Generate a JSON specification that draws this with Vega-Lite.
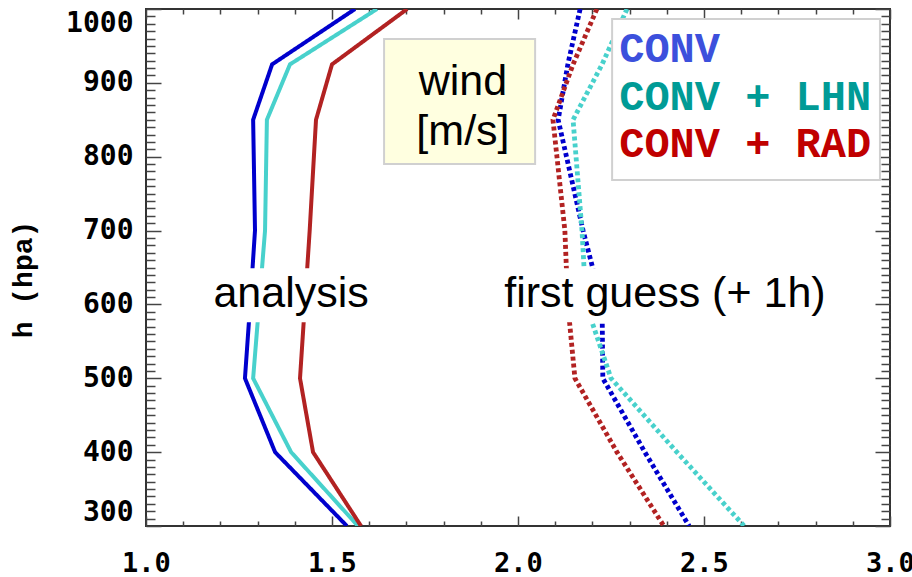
{
  "$schema": "https://vega.github.io/schema/vega-lite/v6.json",
  "width": 744,
  "height": 517,
  "autosize": {"type": "none"},
  "padding": {"left": 146, "top": 9, "right": 22, "bottom": 51},
  "background": "white",
  "datasets": {
    "profiles": [
      {"run": "CONV", "type": "analysis", "p": 1000, "v": 1.562},
      {"run": "CONV", "type": "analysis", "p": 925, "v": 1.339},
      {"run": "CONV", "type": "analysis", "p": 850, "v": 1.288},
      {"run": "CONV", "type": "analysis", "p": 700, "v": 1.293},
      {"run": "CONV", "type": "analysis", "p": 600, "v": 1.280},
      {"run": "CONV", "type": "analysis", "p": 500, "v": 1.266},
      {"run": "CONV", "type": "analysis", "p": 400, "v": 1.347},
      {"run": "CONV", "type": "analysis", "p": 300, "v": 1.540},
      {"run": "CONV + LHN", "type": "analysis", "p": 1000, "v": 1.621},
      {"run": "CONV + LHN", "type": "analysis", "p": 925, "v": 1.387},
      {"run": "CONV + LHN", "type": "analysis", "p": 850, "v": 1.325},
      {"run": "CONV + LHN", "type": "analysis", "p": 700, "v": 1.320},
      {"run": "CONV + LHN", "type": "analysis", "p": 600, "v": 1.304},
      {"run": "CONV + LHN", "type": "analysis", "p": 500, "v": 1.288},
      {"run": "CONV + LHN", "type": "analysis", "p": 400, "v": 1.390},
      {"run": "CONV + LHN", "type": "analysis", "p": 300, "v": 1.570},
      {"run": "CONV + RAD", "type": "analysis", "p": 1000, "v": 1.702},
      {"run": "CONV + RAD", "type": "analysis", "p": 925, "v": 1.500},
      {"run": "CONV + RAD", "type": "analysis", "p": 850, "v": 1.457},
      {"run": "CONV + RAD", "type": "analysis", "p": 700, "v": 1.440},
      {"run": "CONV + RAD", "type": "analysis", "p": 600, "v": 1.427},
      {"run": "CONV + RAD", "type": "analysis", "p": 500, "v": 1.414},
      {"run": "CONV + RAD", "type": "analysis", "p": 400, "v": 1.449},
      {"run": "CONV + RAD", "type": "analysis", "p": 300, "v": 1.578},
      {"run": "CONV", "type": "first guess", "p": 1000, "v": 2.167},
      {"run": "CONV", "type": "first guess", "p": 925, "v": 2.134},
      {"run": "CONV", "type": "first guess", "p": 850, "v": 2.108},
      {"run": "CONV", "type": "first guess", "p": 700, "v": 2.175},
      {"run": "CONV", "type": "first guess", "p": 600, "v": 2.226},
      {"run": "CONV", "type": "first guess", "p": 500, "v": 2.228},
      {"run": "CONV", "type": "first guess", "p": 400, "v": 2.341},
      {"run": "CONV", "type": "first guess", "p": 300, "v": 2.460},
      {"run": "CONV + LHN", "type": "first guess", "p": 1000, "v": 2.293},
      {"run": "CONV + LHN", "type": "first guess", "p": 925, "v": 2.226},
      {"run": "CONV + LHN", "type": "first guess", "p": 850, "v": 2.148},
      {"run": "CONV + LHN", "type": "first guess", "p": 700, "v": 2.172},
      {"run": "CONV + LHN", "type": "first guess", "p": 600, "v": 2.183},
      {"run": "CONV + LHN", "type": "first guess", "p": 500, "v": 2.250},
      {"run": "CONV + LHN", "type": "first guess", "p": 400, "v": 2.427},
      {"run": "CONV + LHN", "type": "first guess", "p": 300, "v": 2.608},
      {"run": "CONV + RAD", "type": "first guess", "p": 1000, "v": 2.212},
      {"run": "CONV + RAD", "type": "first guess", "p": 925, "v": 2.148},
      {"run": "CONV + RAD", "type": "first guess", "p": 850, "v": 2.094},
      {"run": "CONV + RAD", "type": "first guess", "p": 700, "v": 2.126},
      {"run": "CONV + RAD", "type": "first guess", "p": 600, "v": 2.134},
      {"run": "CONV + RAD", "type": "first guess", "p": 500, "v": 2.153},
      {"run": "CONV + RAD", "type": "first guess", "p": 400, "v": 2.266},
      {"run": "CONV + RAD", "type": "first guess", "p": 300, "v": 2.392}
    ],
    "gaps": [
      {"name": "analysis", "v1": 1.177, "v2": 1.602, "p1": 576, "p2": 649},
      {"name": "first guess", "v1": 1.952, "v2": 2.839, "p1": 576, "p2": 649}
    ],
    "boxes": [
      {"name": "wind", "v1": 1.640, "v2": 2.046, "p1": 790, "p2": 959.4},
      {"name": "legend", "v1": 2.253, "v2": 2.973, "p1": 768.5, "p2": 986.5}
    ],
    "notes": [
      {"text": "analysis", "v": 1.39, "p": 596.5},
      {"text": "first guess (+ 1h)", "v": 2.395, "p": 596.5},
      {"text": "wind", "v": 1.852, "p": 883.6},
      {"text": "[m/s]", "v": 1.852, "p": 815.9}
    ],
    "legend": [
      {"label": "CONV", "v": 2.272, "p": 927.8},
      {"label": "CONV + LHN", "v": 2.272, "p": 863.3},
      {"label": "CONV + RAD", "v": 2.272, "p": 799.2}
    ]
  },
  "resolve": {"axis": {"x": "independent", "y": "independent"}, "scale": {"fill": "independent"}},
  "layer": [
    {
      "data": {"name": "profiles"},
      "mark": {"type": "line", "clip": true, "strokeCap": "butt"},
      "encoding": {
        "x": {"field": "v", "type": "quantitative",
              "scale": {"domain": [1, 3], "nice": false, "zero": false},
              "axis": {"orient": "bottom", "title": null, "values": [1, 1.5, 2, 2.5, 3], "format": ".1f",
                       "tickSize": -10, "labelPadding": 34, "labelFlush": false,
                       "labelFont": "DejaVu Sans Mono", "labelFontWeight": "bold", "labelFontSize": 27, "labelColor": "black"}},
        "y": {"field": "p", "type": "quantitative",
              "scale": {"domain": [300, 1000], "nice": false, "zero": false},
              "axis": {"orient": "left", "title": "h (hpa)", "values": [300, 400, 500, 600, 700, 800, 900, 1000], "format": "d",
                       "tickSize": -15, "labelPadding": 28, "labelFlush": true,
                       "labelFont": "DejaVu Sans Mono", "labelFontWeight": "bold", "labelFontSize": 28, "labelColor": "black",
                       "titleFont": "Liberation Mono", "titleFontWeight": "bold", "titleFontSize": 28, "titleColor": "black",
                       "titlePadding": 28, "titleY": 270}},
        "order": {"field": "p", "type": "quantitative", "sort": "descending"},
        "stroke": {"field": "run", "type": "nominal",
                   "scale": {"domain": ["CONV", "CONV + LHN", "CONV + RAD"], "range": ["#0000CD", "#48D1CC", "#B22222"]},
                   "legend": null},
        "strokeDash": {"field": "type", "type": "nominal",
                       "scale": {"domain": ["analysis", "first guess"], "range": [[1, 0], [4, 3]]},
                       "legend": null},
        "strokeWidth": {"field": "type", "type": "nominal",
                        "scale": {"domain": ["analysis", "first guess"], "range": [4, 4.8]},
                        "legend": null},
        "detail": {"field": "type"}
      }
    },
    {
      "data": {"name": "gaps"},
      "mark": {"type": "rect", "fill": "white", "stroke": null},
      "encoding": {
        "x": {"field": "v1", "type": "quantitative",
              "axis": {"orient": "bottom", "title": null, "labels": false,
                       "values": [1.1, 1.2, 1.3, 1.4, 1.6, 1.7, 1.8, 1.9, 2.1, 2.2, 2.3, 2.4, 2.6, 2.7, 2.8, 2.9],
                       "tickSize": -5}},
        "x2": {"field": "v2"},
        "y": {"field": "p1", "type": "quantitative",
              "axis": {"orient": "left", "title": null, "labels": false, "tickSize": -9,
                       "values": [310,320,330,340,350,360,370,380,390,410,420,430,440,450,460,470,480,490,510,520,530,540,550,560,570,580,590,610,620,630,640,650,660,670,680,690,710,720,730,740,750,760,770,780,790,810,820,830,840,850,860,870,880,890,910,920,930,940,950,960,970,980,990]}},
        "y2": {"field": "p2"}
      }
    },
    {
      "data": {"name": "boxes"},
      "mark": {"type": "rect", "strokeWidth": 2},
      "encoding": {
        "x": {"field": "v1", "type": "quantitative",
              "axis": {"orient": "top", "title": null, "labels": false, "values": [1, 1.5, 2, 2.5, 3], "tickSize": -10}},
        "x2": {"field": "v2"},
        "y": {"field": "p1", "type": "quantitative",
              "axis": {"orient": "right", "title": null, "labels": false, "values": [300, 400, 500, 600, 700, 800, 900, 1000], "tickSize": -15}},
        "y2": {"field": "p2"},
        "fill": {"field": "name", "type": "nominal", "scale": {"domain": ["wind", "legend"], "range": ["#FFFFE0", "#FFFFFF"]}, "legend": null},
        "stroke": {"value": "#D0D0D0"}
      }
    },
    {
      "data": {"name": "notes"},
      "mark": {"type": "text", "font": "Liberation Sans", "fontSize": 43, "align": "center", "baseline": "alphabetic", "color": "black"},
      "encoding": {
        "x": {"field": "v", "type": "quantitative",
              "axis": {"orient": "top", "title": null, "labels": false, "tickSize": -5,
                       "values": [1.1, 1.2, 1.3, 1.4, 1.6, 1.7, 1.8, 1.9, 2.1, 2.2, 2.3, 2.4, 2.6, 2.7, 2.8, 2.9]}},
        "y": {"field": "p", "type": "quantitative",
              "axis": {"orient": "right", "title": null, "labels": false, "tickSize": -9,
                       "values": [310,320,330,340,350,360,370,380,390,410,420,430,440,450,460,470,480,490,510,520,530,540,550,560,570,580,590,610,620,630,640,650,660,670,680,690,710,720,730,740,750,760,770,780,790,810,820,830,840,850,860,870,880,890,910,920,930,940,950,960,970,980,990]}},
        "text": {"field": "text"}
      }
    },
    {
      "data": {"name": "legend"},
      "mark": {"type": "text", "font": "Liberation Mono", "fontWeight": "bold", "fontSize": 42, "align": "left", "baseline": "alphabetic"},
      "encoding": {
        "x": {"field": "v", "type": "quantitative", "axis": null},
        "y": {"field": "p", "type": "quantitative", "axis": null},
        "text": {"field": "label"},
        "fill": {"field": "label", "type": "nominal",
                 "scale": {"domain": ["CONV", "CONV + LHN", "CONV + RAD"], "range": ["#3C50DC", "#009B96", "#C00000"]},
                 "legend": null}
      }
    }
  ],
  "config": {
    "view": {"stroke": "#333333", "strokeWidth": 2},
    "axis": {"grid": false, "domain": false, "tickColor": "#444444", "tickWidth": 1.5}
  }
}
